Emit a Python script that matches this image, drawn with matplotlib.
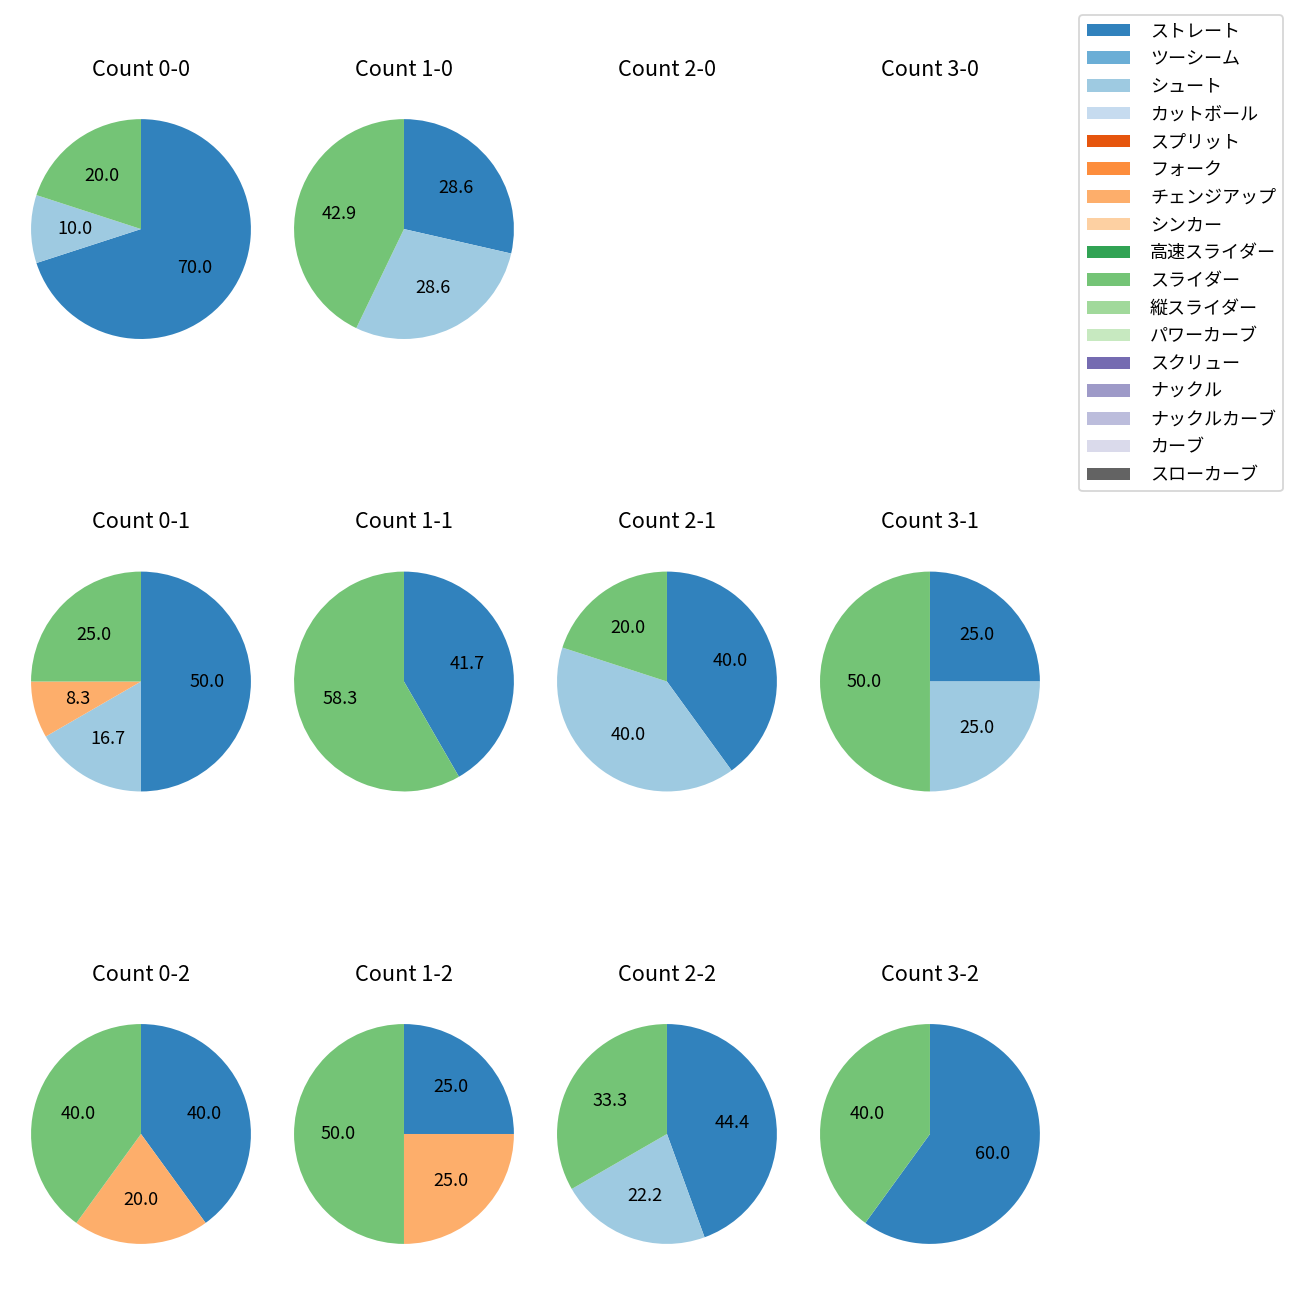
import matplotlib
matplotlib.use('Agg')
import matplotlib.pyplot as plt
from matplotlib.patches import Patch

plt.rcParams['font.family'] = ['Noto Sans CJK JP', 'DejaVu Sans']

pitch_types = ['ストレート', 'ツーシーム', 'シュート', 'カットボール', 'スプリット', 'フォーク',
               'チェンジアップ', 'シンカー', '高速スライダー', 'スライダー', '縦スライダー',
               'パワーカーブ', 'スクリュー', 'ナックル', 'ナックルカーブ', 'カーブ', 'スローカーブ']
colors = ['#3182bd', '#6baed6', '#9ecae1', '#c6dbef', '#e6550d', '#fd8d3c', '#fdae6b', '#fdd0a2',
          '#31a354', '#74c476', '#a1d99b', '#c7e9c0', '#756bb1', '#9e9ac8', '#bcbddc', '#dadaeb',
          '#636363']

# pitch counts per ball-strike count, keyed by pitch type
counts = {
    '0-0': {'ストレート': 7, 'シュート': 1, 'スライダー': 2},
    '1-0': {'ストレート': 2, 'シュート': 2, 'スライダー': 3},
    '2-0': {},
    '3-0': {},
    '0-1': {'ストレート': 6, 'シュート': 2, 'チェンジアップ': 1, 'スライダー': 3},
    '1-1': {'ストレート': 5, 'スライダー': 7},
    '2-1': {'ストレート': 2, 'シュート': 2, 'スライダー': 1},
    '3-1': {'ストレート': 1, 'シュート': 1, 'スライダー': 2},
    '0-2': {'ストレート': 2, 'チェンジアップ': 1, 'スライダー': 2},
    '1-2': {'ストレート': 1, 'チェンジアップ': 1, 'スライダー': 2},
    '2-2': {'ストレート': 4, 'シュート': 2, 'スライダー': 3},
    '3-2': {'ストレート': 3, 'スライダー': 2},
}
balls = [0, 1, 2, 3]
strikes = [0, 1, 2]

fig, axes = plt.subplots(3, 4, figsize=(10, 10), dpi=130)
fig.subplots_adjust(left=0.0073, right=0.8165, top=0.9392, bottom=0.0123, wspace=0, hspace=0.508)

for s in strikes:
    for b in balls:
        ax = axes[s][b]
        key = f'{b}-{s}'
        data = counts[key]
        vals = [data[p] for p in pitch_types if p in data]
        cols = [colors[i] for i, p in enumerate(pitch_types) if p in data]
        if vals:
            ax.pie(vals, colors=cols, autopct='%.1f', startangle=90, counterclock=False,
                   radius=1.045)
        else:
            ax.axis('off')
            ax.set_aspect('equal')
            ax.set_xlim(-1.25, 1.25)
            ax.set_ylim(-1.25, 1.25)
        ax.set_title(f'Count {key}', pad=12)

handles = [Patch(facecolor=c, label=p) for p, c in zip(pitch_types, colors)]
fig.legend(handles=handles, loc='upper right', bbox_to_anchor=(0.987, 0.9885), borderaxespad=0,
           labelspacing=0.54, handlelength=2.4, handletextpad=1.1)

fig.savefig('out.png')
